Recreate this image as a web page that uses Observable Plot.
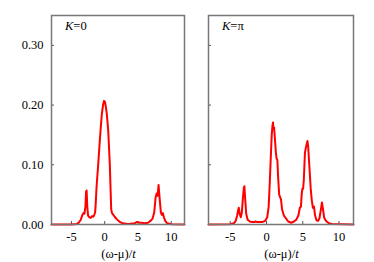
<!DOCTYPE html>
<html><head><meta charset="utf-8">
<script src="https://cdn.jsdelivr.net/npm/d3@7"></script>
<script src="https://cdn.jsdelivr.net/npm/@observablehq/plot@0.6"></script>
<style>
body{margin:0;background:#fff;}
#wrap{position:relative;width:374px;height:262px;}
#wrap svg{position:absolute;top:0;}
#wrap svg text, #wrap svg tspan{font-family:'Liberation Serif',serif !important;}
</style></head><body><div id="wrap"></div>
<script>
// K = 0 spectral function
const omegaK0 = [-8,-5,-4.2,-3.9,-3.6,-3.35,-3.2,-3.05,-2.9,-2.8,-2.72,-2.62,-2.5,-2.3,-2.1,-1.9,-1.75,-1.6,-1.45,-1.38,-1.23,-1.08,-0.98,-0.8,-0.63,-0.43,-0.25,-0.1,0.05,0.2,0.32,0.53,0.77,0.88,0.98,1.1,1.3,1.5,1.8,2.2,2.7,3.5,4.5,4.8,5.0,5.2,5.5,6.0,6.5,6.9,7.2,7.45,7.65,7.8,7.95,8.1,8.25,8.45,8.6,8.75,8.9,9.1,9.4,10,12];
const dosK0   = [0,0,0.001,0.003,0.008,0.016,0.019,0.018,0.03,0.055,0.057,0.03,0.015,0.012,0.011,0.014,0.013,0.015,0.02,0.029,0.062,0.085,0.1,0.13,0.157,0.185,0.2,0.207,0.205,0.195,0.185,0.157,0.1,0.06,0.025,0.019,0.016,0.013,0.009,0.005,0.002,0.001,0.002,0.004,0.004,0.003,0.003,0.002,0.003,0.006,0.01,0.02,0.045,0.052,0.048,0.066,0.045,0.02,0.016,0.019,0.012,0.006,0.002,0.0005,0];
// K = pi spectral function
const omegaKpi = [-8,-5,-4.5,-4.25,-4.05,-3.9,-3.82,-3.7,-3.55,-3.4,-3.25,-3.12,-3.05,-2.95,-2.8,-2.6,-2.3,-2,-1.7,-1.5,-1.3,-1.0,-0.6,-0.2,0.1,0.3,0.45,0.6,0.72,0.82,0.9,0.97,1.05,1.15,1.3,1.4,1.5,1.6,1.75,1.9,2.0,2.15,2.4,2.7,3.0,3.4,3.8,4.1,4.4,4.6,4.75,4.85,4.95,5.05,5.15,5.3,5.45,5.55,5.65,5.75,5.85,5.95,6.1,6.25,6.4,6.55,6.7,6.9,7.1,7.3,7.5,7.65,7.8,7.95,8.1,8.3,8.6,9.0,12];
const dosKpi   = [0,0.0005,0.002,0.006,0.015,0.025,0.028,0.018,0.012,0.02,0.045,0.062,0.064,0.045,0.018,0.008,0.005,0.004,0.004,0.005,0.004,0.004,0.004,0.006,0.012,0.03,0.07,0.115,0.15,0.165,0.171,0.16,0.162,0.145,0.12,0.11,0.108,0.08,0.05,0.045,0.042,0.025,0.015,0.01,0.005,0.003,0.005,0.008,0.015,0.028,0.03,0.05,0.06,0.06,0.075,0.12,0.13,0.135,0.14,0.13,0.11,0.09,0.06,0.04,0.028,0.03,0.015,0.007,0.006,0.01,0.025,0.037,0.025,0.012,0.008,0.005,0.002,0.001,0];
const panelLabels = ["0", "π"];
const xTicks = [-5, 0, 5, 10];
const yTicks = [0, 0.1, 0.2, 0.3];
const xDomain = [-8, 12];
const yDomain = [0, 0.35];

const FONT = "Liberation Serif";
const FS = 12.5;

function panel(xs, ys, {left, width, marginLeft, marginRight, showY, label}) {
  const data = xs.map((x, i) => ({x, y: ys[i]}));
  const svg = Plot.plot({
    width, height: 262, marginTop: 15, marginBottom: 38, marginLeft, marginRight,
    style: {fontFamily: FONT, fontSize: FS + "px", color: "#000", background: "transparent", overflow: "visible"},
    x: {domain: xDomain},
    y: {domain: yDomain},
    marks: [
      Plot.axisX(xTicks, {tickSize: -3, fill: "none", stroke: "#555", label: null}),
      Plot.axisX(xTicks, {tickSize: 0, tickPadding: 8, tickFormat: d => String(d), fill: "#000", fontSize: FS, fontFamily: FONT, label: null}),
      Plot.axisY(yTicks, {tickSize: -3, fill: "none", stroke: "#555", label: null}),
      showY ? Plot.axisY(yTicks, {tickSize: 0, tickPadding: 8, tickFormat: d3.format(".2f"), fill: "#000", fontSize: FS, fontFamily: FONT, label: null}) : null,
      Plot.line(data, {x: "x", y: "y", stroke: "#ff0000", strokeWidth: 2}),
      Plot.frame({stroke: "#777", strokeWidth: 1.5})
    ]
  });
  svg.setAttribute("font-family", FONT);
  svg.style.left = left + "px";
  const s = d3.select(svg);
  s.selectAll("text").attr("font-family", FONT);
  const t = s.append("text").attr("x", marginLeft + 14).attr("y", 30).attr("text-anchor", "start")
    .attr("font-family", FONT).attr("font-size", FS).attr("fill", "#000");
  t.append("tspan").attr("font-style", "italic").text("K");
  t.append("tspan").text("=" + label);
  const cx = marginLeft + (width - marginLeft - marginRight) / 2 + 1;
  const a = s.append("text").attr("x", cx).attr("y", 258).attr("text-anchor", "middle")
    .attr("font-family", FONT).attr("font-size", FS).attr("fill", "#000");
  a.append("tspan").text("(ω-μ)/");
  a.append("tspan").attr("font-style", "italic").text("t");
  document.getElementById("wrap").appendChild(svg);
}

panel(omegaK0, dosK0, {left: 0, width: 192, marginLeft: 51, marginRight: 8, showY: true, label: panelLabels[0]});
panel(omegaKpi, dosKpi, {left: 192, width: 182, marginLeft: 16, marginRight: 21, showY: false, label: panelLabels[1]});
</script></body></html>
